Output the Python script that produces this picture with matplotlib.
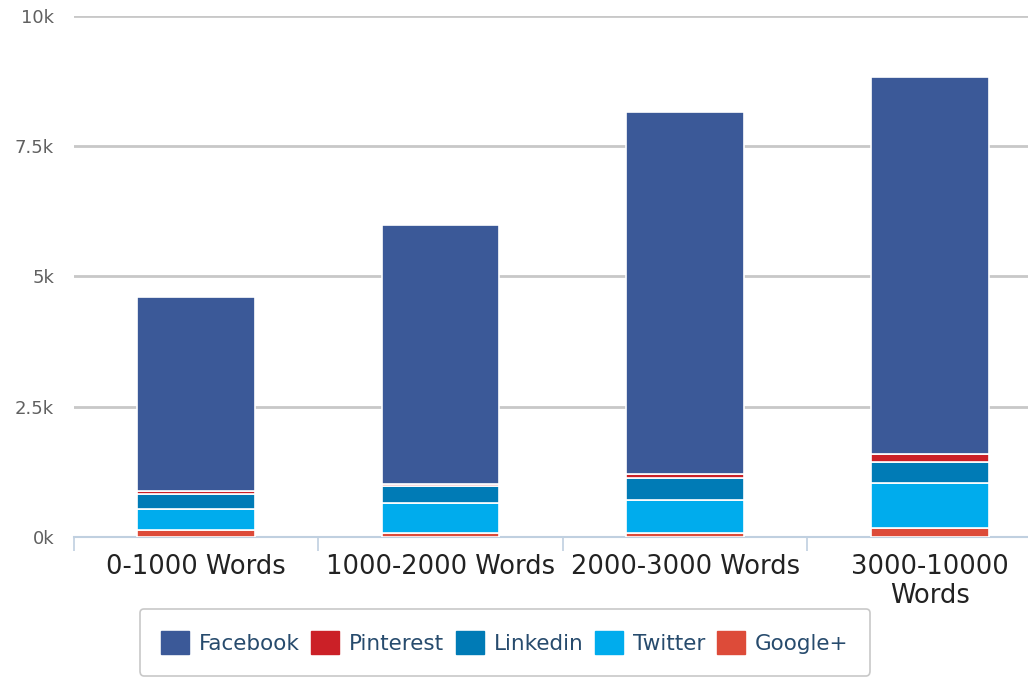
import matplotlib.pyplot as plt
import numpy as np
from matplotlib.patches import Patch

categories = ['0-1000 Words', '1000-2000 Words', '2000-3000 Words', '3000-10000\nWords']
google = [130, 70, 70, 170]
twitter = [410, 580, 640, 870]
linkedin = [290, 330, 420, 400]
pinterest = [60, 40, 70, 150]
facebook = [3710, 4970, 6960, 7240]

series = [
    ('Google+', google, '#dd4b39'),
    ('Twitter', twitter, '#00aced'),
    ('Linkedin', linkedin, '#007bb6'),
    ('Pinterest', pinterest, '#cb2027'),
    ('Facebook', facebook, '#3b5998'),
]

fig = plt.figure(figsize=(10.28, 6.80), dpi=100)
ax = fig.add_axes([0.0715, 0.2103, 0.952, 0.7662])

x = np.arange(len(categories))
bottom = np.zeros(len(categories))
for name, vals, col in series:
    ax.bar(x, vals, width=0.48, bottom=bottom, color=col, edgecolor='white',
           linewidth=1.2, zorder=3)
    bottom += np.array(vals)

ax.set_xlim(-0.5, 3.5)
ax.set_ylim(0, 10000)
ax.set_yticks([0, 2500, 5000, 7500, 10000])
ax.set_yticklabels(['0k', '2.5k', '5k', '7.5k', '10k'], fontsize=13, color='#606060')
ax.grid(axis='y', color='#c8c8c8', linewidth=2, zorder=0)
ax.tick_params(axis='y', length=0, pad=14)

ax.set_xticks(x)
ax.set_xticklabels(categories, fontsize=18.5, color='#222222', linespacing=1.15)
ax.tick_params(axis='x', length=0, pad=12)
ax.set_xticks([-0.5, 0.5, 1.5, 2.5], minor=True)
ax.tick_params(axis='x', which='minor', length=10, color='#c0d0e0', width=1.2)

for s in ['top', 'right', 'left']:
    ax.spines[s].set_visible(False)
ax.spines['bottom'].set_color('#c0d0e0')
ax.spines['bottom'].set_linewidth(1.5)

handles = [Patch(facecolor=c, edgecolor=c, label=n) for n, v, c in series[::-1]]
leg = fig.legend(handles=handles, loc='upper center', bbox_to_anchor=(0.491, 0.12),
                 ncol=5, fontsize=15.5, frameon=True, fancybox=True,
                 handlelength=1.3, handleheight=1.3, handletextpad=0.45,
                 columnspacing=0.55, borderpad=1.0, edgecolor='#bbbbbb')
for t in leg.get_texts():
    t.set_color('#274b6d')
leg.get_frame().set_linewidth(1.2)

fig.savefig('out.png', dpi=100)
